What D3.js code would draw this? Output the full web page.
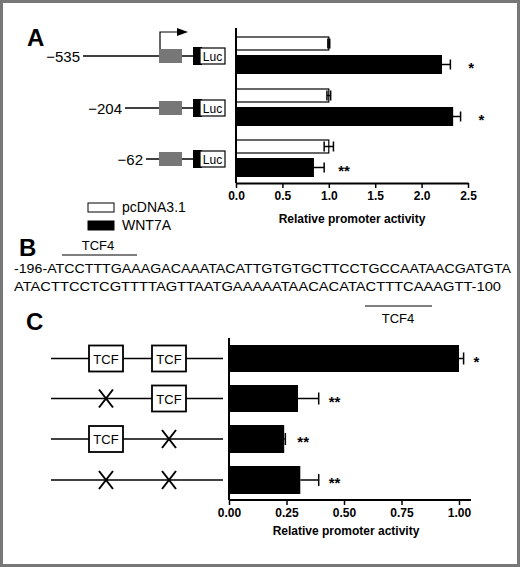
<!DOCTYPE html><html><head><script src="https://cdn.jsdelivr.net/npm/d3@7"></script>
<style>body{margin:0}svg{font-family:Arial,"Liberation Sans",sans-serif}</style></head><body><script>
const constructsA=["−535","−204","−62"];
const startsA=[83,125,146];
const ctrlA=[1.0,1.0,1.0], ctrlErrA=[0.01,0.02,0.05];
const wntA=[2.22,2.34,0.84], wntErrA=[0.09,0.08,0.11];
const starsA=["*","*","**"];
const ticksA=[0,0.5,1.0,1.5,2.0,2.5];
const valsC=[1.0,0.30,0.24,0.31], errC=[0.02,0.09,0.005,0.08], starsC=["*","**","**","**"];
const sitesC=[["TCF","TCF"],["X","TCF"],["TCF","X"],["X","X"]];
const ticksC=[0,0.25,0.5,0.75,1.0];
const seq1="-196-ATCCTTTGAAAGACAAATACATTGTGTGCTTCCTGCCAATAACGATGTA";
const seq2="ATACTTCCTCGTTTTAGTTAATGAAAAATAACACATACTTTCAAAGTT-100";

const svg=d3.select("body").append("svg").attr("width",520).attr("height",567);
svg.append("rect").attr("width",520).attr("height",567).attr("fill","#fff");
svg.append("rect").attr("x",1.5).attr("y",1.5).attr("width",517).attr("height",564).attr("fill","none").attr("stroke","#777").attr("stroke-width",3);
const lab=(t,x,y)=>svg.append("text").text(t).attr("x",x).attr("y",y).attr("font-size",24).attr("font-weight","bold");
lab("A",27,46);lab("B",19,256);lab("C",26,330);

// Panel A chart
const xA=d3.scaleLinear().domain([0,2.5]).range([236,468]);
const groupY=[37,89,140];
const gA=svg.append("g");
constructsA.forEach((c,i)=>{
  const y0=groupY[i];
  gA.append("rect").attr("x",xA(0)).attr("y",y0).attr("width",xA(ctrlA[i])-xA(0)).attr("height",13).attr("fill","#fff").attr("stroke","#000").attr("stroke-width",1.2);
  gA.append("rect").attr("x",xA(0)).attr("y",y0+18).attr("width",xA(wntA[i])-xA(0)).attr("height",19).attr("fill","#000");
  const eb=(v,e,y)=>{gA.append("line").attr("x1",xA(v-e)).attr("x2",xA(v+e)).attr("y1",y).attr("y2",y).attr("stroke","#000").attr("stroke-width",1.5);
    [v-e,v+e].forEach(u=>gA.append("line").attr("x1",xA(u)).attr("x2",xA(u)).attr("y1",y-5).attr("y2",y+5).attr("stroke","#000").attr("stroke-width",1.5));};
  eb(ctrlA[i],ctrlErrA[i],y0+6.5);eb(wntA[i],wntErrA[i],y0+27.5);
  gA.append("text").text(starsA[i]).attr("x",xA(wntA[i]+wntErrA[i])+(i==2?14:18)).attr("y",y0+36).attr("font-size",15).attr("font-weight","bold");
  const yl=y0+19;
  gA.append("text").text(c).attr("x",startsA[i]-3).attr("y",yl+6).attr("text-anchor","end").attr("font-size",15);
  gA.append("line").attr("x1",startsA[i]).attr("x2",195).attr("y1",yl).attr("y2",yl).attr("stroke","#000").attr("stroke-width",1.5);
  gA.append("rect").attr("x",159).attr("y",yl-7).attr("width",23).attr("height",14).attr("fill","#777");
  gA.append("rect").attr("x",193).attr("y",yl-9).attr("width",9).attr("height",18).attr("fill","#000");
  gA.append("rect").attr("x",200).attr("y",yl-8).attr("width",25).attr("height",16).attr("fill","#fff").attr("stroke","#000").attr("stroke-width",1.2);
  gA.append("text").text("Luc").attr("x",212.5).attr("y",yl+4.5).attr("text-anchor","middle").attr("font-size",12);
});
gA.append("path").attr("d","M160,49V32H178").attr("fill","none").attr("stroke","#000").attr("stroke-width",1.2);
gA.append("path").attr("d","M177,28L188,32L177,36Z").attr("fill","#000");
gA.append("line").attr("x1",236).attr("x2",236).attr("y1",28).attr("y2",183).attr("stroke","#000").attr("stroke-width",2);
const axA=gA.append("g").attr("transform","translate(0,183)").call(d3.axisBottom(xA).tickValues(ticksA).tickFormat(d3.format(".1f")).tickSize(5).tickSizeOuter(0));
axA.select(".domain").attr("stroke-width",2);
axA.selectAll("line").attr("stroke-width",1.5);
axA.selectAll("text").attr("font-size",12).attr("font-weight","bold").attr("font-family","Arial,Liberation Sans,sans-serif").attr("fill","#000");
gA.append("text").text("Relative promoter activity").attr("x",352).attr("y",223).attr("text-anchor","middle").attr("font-size",12).attr("font-weight","bold");
[["pcDNA3.1","#fff",203],["WNT7A","#000",221]].forEach(([t,f,y])=>{
  gA.append("rect").attr("x",88).attr("y",y).attr("width",26).attr("height",9).attr("fill",f).attr("stroke","#000");
  gA.append("text").text(t).attr("x",122).attr("y",y+9).attr("font-size",14);
});

// Panel B
svg.append("text").text(seq1).attr("x",14).attr("y",273).attr("font-size",13.2).attr("textLength",497).attr("lengthAdjust","spacingAndGlyphs");
svg.append("text").text(seq2).attr("x",14).attr("y",291).attr("font-size",13.2).attr("textLength",487).attr("lengthAdjust","spacingAndGlyphs");
svg.append("line").attr("x1",62).attr("x2",137).attr("y1",255).attr("y2",255).attr("stroke","#000");
svg.append("text").text("TCF4").attr("x",98).attr("y",250).attr("text-anchor","middle").attr("font-size",13);
svg.append("line").attr("x1",365).attr("x2",432).attr("y1",306).attr("y2",306).attr("stroke","#000");
svg.append("text").text("TCF4").attr("x",398).attr("y",323).attr("text-anchor","middle").attr("font-size",13);

// Panel C
const xC=d3.scaleLinear().domain([0,1]).range([229,459]);
const bandC=[345,385,425,466], hC=[27,27,28,28];
const gC=svg.append("g");
valsC.forEach((v,i)=>{
  const y=bandC[i],h=hC[i],ym=y+h/2;
  gC.append("rect").attr("x",xC(0)).attr("y",y).attr("width",xC(v)-xC(0)).attr("height",h).attr("fill","#000");
  gC.append("line").attr("x1",xC(v)).attr("x2",xC(v+errC[i])).attr("y1",ym).attr("y2",ym).attr("stroke","#000").attr("stroke-width",1.5);
  gC.append("line").attr("x1",xC(v+errC[i])).attr("x2",xC(v+errC[i])).attr("y1",ym-6).attr("y2",ym+6).attr("stroke","#000").attr("stroke-width",1.5);
  gC.append("text").text(starsC[i]).attr("x",xC(v+errC[i])+(i==2?12:10)).attr("y",ym+8).attr("font-size",15).attr("font-weight","bold");
  gC.append("line").attr("x1",51).attr("x2",223).attr("y1",ym).attr("y2",ym).attr("stroke","#000").attr("stroke-width",1.5);
  [106,169].forEach((cx,j)=>{
    if(sitesC[i][j]=="TCF"){
      gC.append("rect").attr("x",cx-17).attr("y",ym-13).attr("width",34).attr("height",26).attr("fill","#fff").attr("stroke","#000").attr("stroke-width",1.8);
      gC.append("text").text("TCF").attr("x",cx).attr("y",ym+5).attr("text-anchor","middle").attr("font-size",13);
    } else {
      gC.append("path").attr("d",`M${cx-7},${ym-9}L${cx+7},${ym+9}M${cx+7},${ym-9}L${cx-7},${ym+9}`).attr("stroke","#000").attr("stroke-width",2);
    }
  });
});
gC.append("line").attr("x1",229).attr("x2",229).attr("y1",338).attr("y2",500).attr("stroke","#000").attr("stroke-width",2);
const axC=gC.append("g").attr("transform","translate(0,500)").call(d3.axisBottom(xC).tickValues(ticksC).tickFormat(d3.format(".2f")).tickSize(5).tickSizeOuter(0));
axC.select(".domain").attr("stroke-width",2).attr("d","M229,0H471");
axC.selectAll("line").attr("stroke-width",1.5);
axC.selectAll("text").attr("font-size",12).attr("font-weight","bold").attr("font-family","Arial,Liberation Sans,sans-serif").attr("fill","#000");
gC.append("text").text("Relative promoter activity").attr("x",346).attr("y",535).attr("text-anchor","middle").attr("font-size",12).attr("font-weight","bold");
</script></body></html>
